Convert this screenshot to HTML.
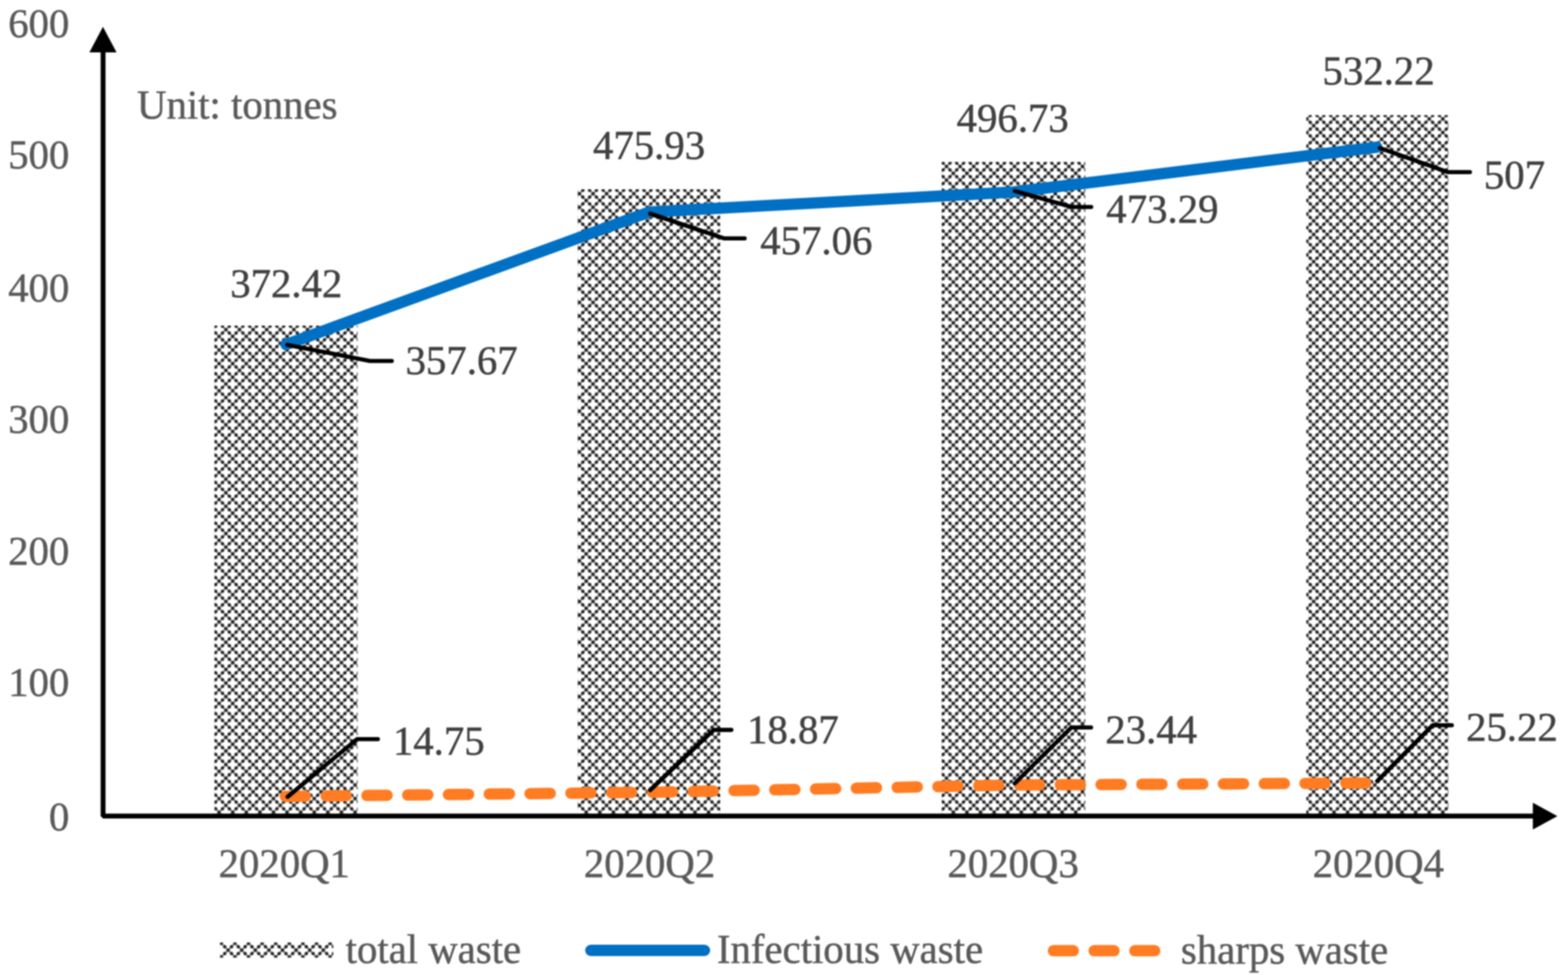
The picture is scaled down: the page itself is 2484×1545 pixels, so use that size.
<!DOCTYPE html>
<html><head><meta charset="utf-8"><style>
html,body{margin:0;padding:0;background:#fff;}
svg{display:block;}
text{font-family:"Liberation Serif","Times New Roman",serif;stroke-width:0.7px;stroke-linejoin:round;}
</style></head><body>
<svg width="2484" height="1545" viewBox="0 0 2484 1545">
<defs>
<pattern id="pat" patternUnits="userSpaceOnUse" x="344.408" y="530.408" width="21.54" height="21.54"><g stroke="#8c8c8c" stroke-width="2.6"><line x1="-2.692" y1="-2.692" x2="24.232" y2="24.232"/><line x1="18.848" y1="-2.692" x2="24.232" y2="2.692"/><line x1="-2.692" y1="18.848" x2="2.692" y2="24.232"/><line x1="8.078" y1="-2.692" x2="-2.692" y2="8.078"/><line x1="24.232" y1="2.692" x2="2.692" y2="24.232"/></g><g fill="#1e1e1e"><circle cx="2.692" cy="2.692" r="2.6"/><circle cx="8.078" cy="8.078" r="2.6"/><circle cx="13.462" cy="13.462" r="2.6"/><circle cx="18.848" cy="18.848" r="2.6"/><circle cx="18.848" cy="8.078" r="2.6"/><circle cx="8.078" cy="18.848" r="2.6"/></g></pattern>
<pattern id="pat2" patternUnits="userSpaceOnUse" x="358.707" y="1502.907" width="21.54" height="21.54"><g stroke="#8c8c8c" stroke-width="2.6"><line x1="-2.692" y1="-2.692" x2="24.232" y2="24.232"/><line x1="18.848" y1="-2.692" x2="24.232" y2="2.692"/><line x1="-2.692" y1="18.848" x2="2.692" y2="24.232"/><line x1="8.078" y1="-2.692" x2="-2.692" y2="8.078"/><line x1="24.232" y1="2.692" x2="2.692" y2="24.232"/></g><g fill="#1e1e1e"><circle cx="2.692" cy="2.692" r="2.6"/><circle cx="8.078" cy="8.078" r="2.6"/><circle cx="13.462" cy="13.462" r="2.6"/><circle cx="18.848" cy="18.848" r="2.6"/><circle cx="18.848" cy="8.078" r="2.6"/><circle cx="8.078" cy="18.848" r="2.6"/></g></pattern>
<filter id="bl" x="-1%" y="-1%" width="102%" height="102%" color-interpolation-filters="sRGB"><feGaussianBlur stdDeviation="0.6"/></filter>
<filter id="soft" x="0" y="0" width="2484" height="1545" filterUnits="userSpaceOnUse" color-interpolation-filters="sRGB"><feGaussianBlur stdDeviation="0.8"/></filter>
</defs>
<rect width="2484" height="1545" fill="#fff"/>
<g filter="url(#soft)">
<rect width="2484" height="1545" fill="#fff"/>
<g filter="url(#bl)"><rect x="339.6" y="515.96" width="226.90" height="777.24" fill="url(#pat)"/><rect x="915.0" y="299.93" width="226.00" height="993.27" fill="url(#pat)"/><rect x="1491.7" y="256.52" width="227.50" height="1036.68" fill="url(#pat)"/><rect x="2069.4" y="182.46" width="225.20" height="1110.74" fill="url(#pat)"/></g>
<polyline points="453,546 1028.5,336 1605.5,304.3 2181,233.2" fill="none" stroke="#0070C4" stroke-width="18" stroke-linecap="round" stroke-linejoin="round"/>
<polyline points="452,1262 1029,1255.5 1605.5,1244 2181,1240.8" fill="none" stroke="#FF7C22" stroke-width="18" stroke-linecap="round" stroke-linejoin="round" stroke-dasharray="32 32.62"/>
<g fill="none" stroke="#000" stroke-width="6.6" stroke-linecap="round" stroke-linejoin="round"><polyline points="455,546.5 586,572 620.6,572"/><polyline points="1030,338.5 1147.4,377.8 1179.6,377.8"/><polyline points="1607.6,302.6 1697.9,328 1728.6,328"/><polyline points="2186,234.6 2294,272.8 2328.6,272.8"/><polyline points="455.6,1262.6 565.5,1171.3 598.6,1171.3"/><polyline points="1030,1252 1130.8,1156.6 1158.6,1156.6"/><polyline points="1607.5,1241.5 1697.2,1152.8 1728.4,1152.8"/><polyline points="2181.8,1237.6 2269.4,1149.2 2299.9,1149.2"/></g>
<g fill="none" stroke="#000" stroke-width="7.7" stroke-linejoin="bevel"><polyline points="163.3,80 163.3,1293.2 2430,1293.2"/></g>
<polygon points="163.1,42.5 141.6,83 184.6,83" fill="#000"/>
<polygon points="2467.2,1293.2 2428.3,1272 2428.3,1314.4" fill="#000"/>
<rect x="348.5" y="1493.5" width="179.5" height="24" fill="url(#pat2)" filter="url(#bl)"/>
<line x1="936" y1="1506" x2="1116" y2="1506" stroke="#0070C4" stroke-width="18" stroke-linecap="round"/>
<line x1="1668.8" y1="1506.6" x2="1830" y2="1506.6" stroke="#FF7C22" stroke-width="18" stroke-linecap="round" stroke-dasharray="31.5 33"/>
<text x="109.8" y="58.9" text-anchor="end" fill="#595959" stroke="#595959" font-size="64.6">600</text><text x="109.8" y="266.6" text-anchor="end" fill="#595959" stroke="#595959" font-size="64.6">500</text><text x="109.8" y="477.90000000000003" text-anchor="end" fill="#595959" stroke="#595959" font-size="64.6">400</text><text x="109.8" y="686.1" text-anchor="end" fill="#595959" stroke="#595959" font-size="64.6">300</text><text x="109.8" y="895.2" text-anchor="end" fill="#595959" stroke="#595959" font-size="64.6">200</text><text x="109.8" y="1103.1" text-anchor="end" fill="#595959" stroke="#595959" font-size="64.6">100</text><text x="109.8" y="1315.6" text-anchor="end" fill="#595959" stroke="#595959" font-size="64.6">0</text><text x="217" y="188" text-anchor="start" fill="#595959" stroke="#595959" font-size="64.6">Unit: tonnes</text><text x="453.45" y="471.0" text-anchor="middle" fill="#404040" stroke="#404040" font-size="64.6">372.42</text><text x="1028.3" y="252.0" text-anchor="middle" fill="#404040" stroke="#404040" font-size="64.6">475.93</text><text x="1604.35" y="209.0" text-anchor="middle" fill="#404040" stroke="#404040" font-size="64.6">496.73</text><text x="2183.9" y="134.0" text-anchor="middle" fill="#404040" stroke="#404040" font-size="64.6">532.22</text><text x="642.5" y="593.2" text-anchor="start" fill="#404040" stroke="#404040" font-size="64.6">357.67</text><text x="1204.4" y="402.9" text-anchor="start" fill="#404040" stroke="#404040" font-size="64.6">457.06</text><text x="1752.6" y="352.7" text-anchor="start" fill="#404040" stroke="#404040" font-size="64.6">473.29</text><text x="2350.8" y="299.3" text-anchor="start" fill="#404040" stroke="#404040" font-size="64.6">507</text><text x="622.4" y="1196.3" text-anchor="start" fill="#404040" stroke="#404040" font-size="64.6">14.75</text><text x="1183.5" y="1178.2" text-anchor="start" fill="#404040" stroke="#404040" font-size="64.6">18.87</text><text x="1750.9" y="1177.7" text-anchor="start" fill="#404040" stroke="#404040" font-size="64.6">23.44</text><text x="2322.4" y="1174.3" text-anchor="start" fill="#404040" stroke="#404040" font-size="64.6">25.22</text><text x="450.35" y="1390" text-anchor="middle" fill="#595959" stroke="#595959" font-size="64.6">2020Q1</text><text x="1029.0" y="1390" text-anchor="middle" fill="#595959" stroke="#595959" font-size="64.6">2020Q2</text><text x="1605.0" y="1390" text-anchor="middle" fill="#595959" stroke="#595959" font-size="64.6">2020Q3</text><text x="2183.5" y="1390" text-anchor="middle" fill="#595959" stroke="#595959" font-size="64.6">2020Q4</text><text x="547.5" y="1526.3" text-anchor="start" fill="#595959" stroke="#595959" font-size="64.6">total waste</text><text x="1135.8" y="1526.3" text-anchor="start" fill="#595959" stroke="#595959" font-size="64.6">Infectious waste</text><text x="1870.8" y="1526.5" text-anchor="start" fill="#595959" stroke="#595959" font-size="64.6">sharps waste</text>
</g>
</svg>
</body></html>
